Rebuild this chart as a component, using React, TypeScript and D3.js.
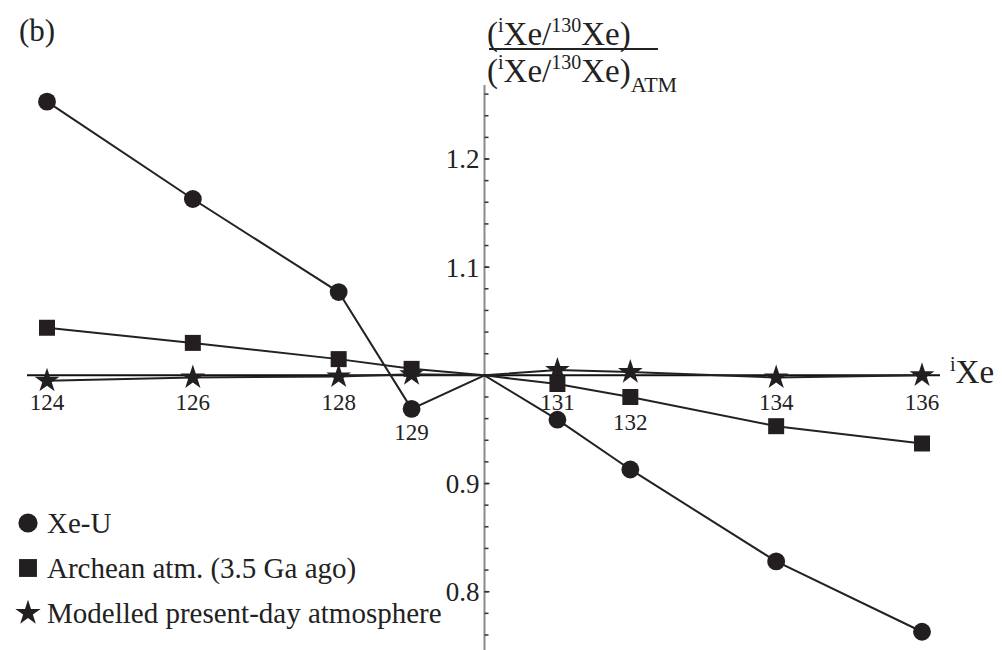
import React from "react";
import * as d3 from "d3";

const isotopes = [124, 126, 128, 129, 130, 131, 132, 134, 136];
const xeU = [1.253, 1.163, 1.077, 0.969, 1.0, 0.959, 0.913, 0.828, 0.763];
const archean = [1.044, 1.030, 1.015, 1.006, 1.0, 0.992, 0.980, 0.953, 0.937];
const modern = [0.995, 0.998, 0.999, 1.001, 1.0, 1.005, 1.003, 0.998, 1.0];
const xTickLabels = ["124", "126", "128", "129", "131", "132", "134", "136"];
const yMajorTicks = [0.8, 0.9, 1.1, 1.2];
const legendLabels = ["Xe-U", "Archean atm. (3.5 Ga ago)", "Modelled present-day atmosphere"];

const W = 1002;
const H = 650;
const FONT = "Liberation Serif";

export default function App() {
  const x = d3.scaleLinear().domain([124, 136]).range([47, 922]);
  const y = d3.scaleLinear().domain([0.8, 1.2]).range([591.7, 159]);
  const x0 = x(130);
  const y0 = y(1.0);

  const line = d3
    .line<number>()
    .x((_, i) => x(isotopes[i]))
    .y((d) => y(d));

  const circle = d3.symbol().type(d3.symbolCircle).size(250)()!;
  const square = d3.symbol().type(d3.symbolSquare).size(256)()!;
  const star = d3.symbol().type(d3.symbolStar).size(190)()!;
  const legendCircle = d3.symbol().type(d3.symbolCircle).size(290)()!;
  const legendSquare = d3.symbol().type(d3.symbolSquare).size(320)()!;
  const legendStar = d3.symbol().type(d3.symbolStar).size(200)()!;

  const minorTicks = d3.range(0.76, 1.27, 0.02);

  const labelDy: Record<string, number> = { "129": 30, "132": 20 };

  const series = [
    { vals: xeU, sym: circle },
    { vals: archean, sym: square },
    { vals: modern, sym: star },
  ];
  const legendSyms = [legendCircle, legendSquare, legendStar];

  return (
    <svg
      width={W}
      height={H}
      style={{ position: "absolute", left: 0, top: 0, background: "#fff", fontFamily: FONT }}
    >
      {/* y axis */}
      <line x1={x0} x2={x0} y1={85} y2={H} stroke="#8a8a8a" strokeWidth={2} />
      {minorTicks.map((t, i) => (
        <line key={i} x1={x0} x2={x0 + 4} y1={y(t)} y2={y(t)} stroke="#333" strokeWidth={1.5} />
      ))}
      {yMajorTicks.map((t) => (
        <g key={t}>
          <line x1={x0} x2={x0 + 5} y1={y(t)} y2={y(t)} stroke="#333" strokeWidth={1.5} />
          <text x={x0 - 5} y={y(t)} dy="0.35em" textAnchor="end" fontSize={27} fill="#222">
            {t.toFixed(1)}
          </text>
        </g>
      ))}

      {/* x axis */}
      <line x1={27} x2={940} y1={y0} y2={y0} stroke="#111" strokeWidth={2} />
      {xTickLabels.map((l) => (
        <text
          key={l}
          x={x(+l)}
          y={y0 + 35 + (labelDy[l] || 0)}
          textAnchor="middle"
          fontSize={23}
          fill="#222"
        >
          {l}
        </text>
      ))}
      <text x={950} y={y0 + 8} fontSize={33} fill="#222">
        <tspan fontSize={20} dy={-12}>i</tspan>
        <tspan dy={12}>Xe</tspan>
      </text>

      {/* series */}
      {series.map((s, si) => (
        <g key={si}>
          <path d={line(s.vals)!} fill="none" stroke="#222" strokeWidth={2} />
          {s.vals.map((v, i) =>
            isotopes[i] === 130 ? null : (
              <path key={i} d={s.sym} transform={`translate(${x(isotopes[i])},${y(v)})`} fill="#231f20" />
            )
          )}
        </g>
      ))}

      {/* panel label */}
      <text x={19} y={41} fontSize={31} fill="#222">(b)</text>

      {/* y title fraction */}
      <text x={487} y={45} fontSize={33} fill="#222">
        (<tspan fontSize={20} dy={-13}>i</tspan>
        <tspan dy={13}>Xe/</tspan>
        <tspan fontSize={20} dy={-13}>130</tspan>
        <tspan dy={13}>Xe)</tspan>
      </text>
      <line x1={489} x2={658} y1={49} y2={49} stroke="#222" strokeWidth={2} />
      <text x={487} y={82} fontSize={33} fill="#222">
        (<tspan fontSize={20} dy={-13}>i</tspan>
        <tspan dy={13}>Xe/</tspan>
        <tspan fontSize={20} dy={-13}>130</tspan>
        <tspan dy={13}>Xe)</tspan>
        <tspan fontSize={22} dy={10}>ATM</tspan>
      </text>

      {/* legend */}
      {legendLabels.map((l, i) => (
        <g key={l} transform={`translate(28,${523 + i * 45})`}>
          <path d={legendSyms[i]} fill="#231f20" />
          <text x={19} y={0} dy="0.35em" fontSize={29} fill="#222">{l}</text>
        </g>
      ))}
    </svg>
  );
}
